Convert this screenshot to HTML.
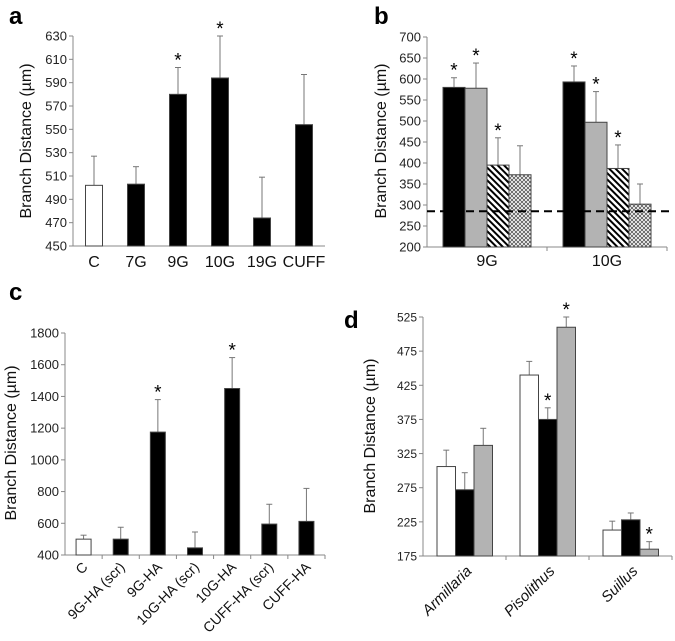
<!DOCTYPE html>
<html><head><meta charset="utf-8">
<style>
html,body{margin:0;padding:0;background:#fff;}
svg{display:block;font-family:"Liberation Sans",sans-serif;}
</style></head>
<body>
<svg id="fig" width="675" height="641" viewBox="0 0 675 641">
<defs>
<pattern id="diag" patternUnits="userSpaceOnUse" width="4.5" height="4.5" patternTransform="rotate(-45)">
<rect width="4.5" height="4.5" fill="#fff"/><rect width="2" height="4.5" fill="#000"/></pattern>
<pattern id="cross" patternUnits="userSpaceOnUse" width="4" height="4">
<rect width="4" height="4" fill="#fff"/><path d="M0,0L4,4M4,0L0,4" stroke="#555" stroke-width="0.8"/></pattern>
</defs>
<g id="root"></g>
</svg>
<script>
// Panel a data
const aCats=["C","7G","9G","10G","19G","CUFF"];
const aVals=[502,503,580,594,474,554];
const aErr=[25,15,23,36,35,43];
const aSig=[0,0,1,1,0,0];
const aTicks=[450,470,490,510,530,550,570,590,610,630];
// Panel b data
const bCats=["9G","10G"];
const bS1=[580,593], bS1e=[23,38];
const bS2=[578,497], bS2e=[60,73];
const bS3=[395,387], bS3e=[65,56];
const bS4=[372,302], bS4e=[69,48];
const bSig=[[1,1,1,0],[1,1,1,0]];
const bBaseline=285;
const bTicks=[200,250,300,350,400,450,500,550,600,650,700];
// Panel c data
const cCats=["C","9G-HA (scr)","9G-HA","10G-HA (scr)","10G-HA","CUFF-HA (scr)","CUFF-HA"];
const cVals=[500,500,1175,445,1450,595,612];
const cErr=[25,75,205,100,195,125,208];
const cSig=[0,0,1,0,1,0,0];
const cTicks=[400,600,800,1000,1200,1400,1600,1800];
// Panel d data
const dCats=["Armillaria","Pisolithus","Suillus"];
const dS1=[306,440,213], dS1e=[24,20,13];
const dS2=[272,375,228], dS2e=[25,17,10];
const dS3=[337,510,185], dS3e=[25,15,11];
const dSig=[[0,0,0],[0,1,1],[0,0,1]];
const dTicks=[175,225,275,325,375,425,475,525];

const NS="http://www.w3.org/2000/svg";
const root=document.getElementById('root');
function el(tag,attrs,parent,text){const e=document.createElementNS(NS,tag);for(const k in attrs)e.setAttribute(k,attrs[k]);if(text!==undefined)e.textContent=text;(parent||root).appendChild(e);return e;}
function scale(d0,d1,r0,r1){return v=>r0+(v-d0)*(r1-r0)/(d1-d0);}

function axes(g,x0,x1,y,ticks,yTop,yBot,name,tickFmt,fs){
  const ys=scale(ticks[0],ticks[ticks.length-1],yBot,yTop);
  const ax=el('line',{x1:x0,y1:yTop,x2:x0,y2:yBot,stroke:'#888','stroke-width':1},g);
  
  const bx=el('line',{x1:x0,y1:yBot,x2:x1,y2:yBot,stroke:'#888','stroke-width':1},g);
  
  ticks.forEach(t=>{const yy=ys(t);
    el('line',{x1:x0-4,y1:yy,x2:x0,y2:yy,stroke:'#888'},g);
    const tx=el('text',{x:x0-6,y:yy+4.5,'text-anchor':'end','font-size':fs||11,fill:'#222'},g,String(t));
    });
  return ys;
}
function ytitle(g,x,y,panel){const t=el('text',{x:x,y:y,'text-anchor':'middle','font-size':16,fill:'#111',transform:`rotate(-90 ${x} ${y})`},g,'Branch Distance (µm)');
  }
function plabel(g,x,y,s){const t=el('text',{x:x,y:y,'font-size':24,'font-weight':'bold',fill:'#000'},g,s);
  }
function bar(g,x,w,v,e,ys,fill,sig,name){
  const y0=ys.base;const top=ys(v);
  el('line',{x1:x+w/2,y1:top,x2:x+w/2,y2:ys(v+e),stroke:'#777','stroke-width':1},g);
  el('line',{x1:x+w/2-3,y1:ys(v+e),x2:x+w/2+3,y2:ys(v+e),stroke:'#777','stroke-width':1},g);
  const r=el('rect',{x:x,y:top,width:w,height:y0-top,fill:fill,stroke:'#444','stroke-width':1},g);
  
  if(sig){const s=el('text',{x:x+w/2,y:ys(v+e)-1,'text-anchor':'middle','font-size':19,fill:'#000'},g,'*');
    }
}

// ---- Panel a
(function(){const g=el('g',{});
plabel(g,9,24,'a');
const x0=73,x1=325,yTop=36,yBot=246;
const ys=axes(g,x0,x1,0,aTicks,yTop,yBot,'panel-a',null,13);ys.base=yBot;
ytitle(g,31,141,'a');
const cw=(x1-x0)/aCats.length;
aCats.forEach((c,i)=>{const cx=x0+cw*(i+0.5);
  bar(g,cx-8.5,17,aVals[i],aErr[i],ys,i==0?'#fff':'#000',aSig[i],'bar-'+c);
  const t=el('text',{x:cx,y:267,'text-anchor':'middle','font-size':16,fill:'#111'},g,c);
  });
})();

// ---- Panel b
(function(){const g=el('g',{});
plabel(g,374,24,'b');
const x0=427,x1=667,yTop=37,yBot=247;
const ys=axes(g,x0,x1,0,bTicks,yTop,yBot,'panel-b',null,13);ys.base=yBot;
ytitle(g,386,141,'b');
const cw=(x1-x0)/bCats.length;
const fills=['#000','#b3b3b3','url(#diag)','url(#cross)'];
const series=[[bS1,bS1e],[bS2,bS2e],[bS3,bS3e],[bS4,bS4e]];
bCats.forEach((c,i)=>{const cx=x0+cw*(i+0.5);
  series.forEach((s,j)=>bar(g,cx-44+22*j,22,s[0][i],s[1][i],ys,fills[j],bSig[i][j],'bar-'+c+'-s'+(j+1)));
  el('line',{x1:x0+cw*(i+1),y1:yBot,x2:x0+cw*(i+1),y2:yBot+4,stroke:'#888'},g);
  const t=el('text',{x:cx,y:266,'text-anchor':'middle','font-size':16,fill:'#111'},g,c);
  });
const dl=el('line',{x1:x0,y1:ys(bBaseline),x2:x1+5,y2:ys(bBaseline),stroke:'#000','stroke-width':2,'stroke-dasharray':'8,5'},g);

})();

// ---- Panel c
(function(){const g=el('g',{});
plabel(g,9,300,'c');
const x0=65,x1=325,yTop=333,yBot=555;
const ys=axes(g,x0,x1,0,cTicks,yTop,yBot,'panel-c',null,13);ys.base=yBot;
ytitle(g,16,443,'c');
const cw=(x1-x0)/cCats.length;
cCats.forEach((c,i)=>{const cx=x0+cw*(i+0.5);
  bar(g,cx-7.5,15,cVals[i],cErr[i],ys,i==0?'#fff':'#000',cSig[i],'bar-'+c);
  el('line',{x1:x0+cw*(i+1),y1:yBot,x2:x0+cw*(i+1),y2:yBot+4,stroke:'#888'},g);
  const t=el('text',{x:cx+5,y:568,'text-anchor':'end','font-size':14,fill:'#111',transform:`rotate(-45 ${cx+5} 568)`},g,c);
  });
})();

// ---- Panel d
(function(){const g=el('g',{});
plabel(g,344,328,'d');
const x0=423,x1=672,yTop=317,yBot=556;
const ys=axes(g,x0,x1,0,dTicks,yTop,yBot,'panel-d',null,12);ys.base=yBot;
ytitle(g,375,436,'d');
const cw=(x1-x0)/dCats.length;
const fills=['#fff','#000','#b3b3b3'];
const series=[[dS1,dS1e],[dS2,dS2e],[dS3,dS3e]];
dCats.forEach((c,i)=>{const cx=x0+cw*(i+0.5);
  series.forEach((s,j)=>bar(g,cx-27.5+18.5*j,18.5,s[0][i],s[1][i],ys,fills[j],dSig[i][j],'bar-'+c+'-s'+(j+1)));
  el('line',{x1:x0+cw*(i+1),y1:yBot,x2:x0+cw*(i+1),y2:yBot+4,stroke:'#888'},g);
  const t=el('text',{x:cx+8,y:572,'text-anchor':'end','font-size':15,'font-style':'italic',fill:'#111',transform:`rotate(-45 ${cx+8} 572)`},g,c);
  });
})();
</script>
</body></html>
